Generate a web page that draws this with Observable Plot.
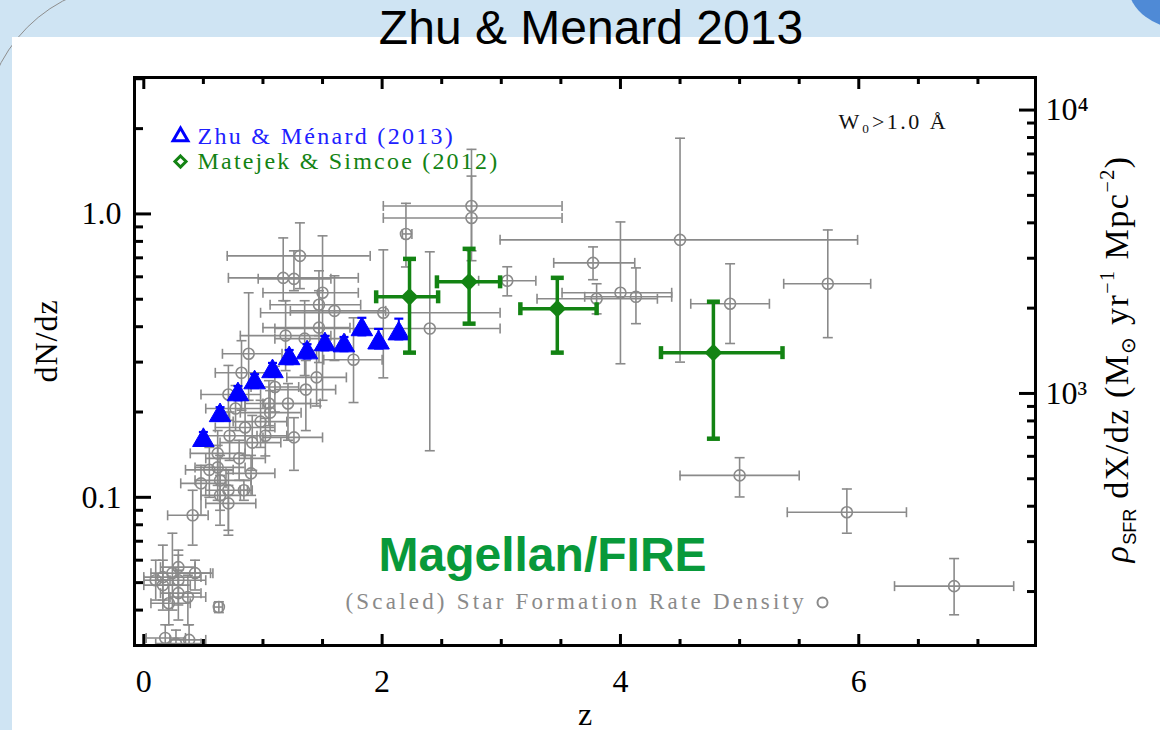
<!DOCTYPE html>
<html><head><meta charset="utf-8">
<script src="https://cdn.jsdelivr.net/npm/d3@7"></script>
<script src="https://cdn.jsdelivr.net/npm/@observablehq/plot@0.6"></script>
<style>
html,body{margin:0;padding:0;}
body{width:1160px;height:730px;overflow:hidden;background:#cfe4f3;position:relative;font-family:"Liberation Sans",Arial,sans-serif;}
#arc{position:absolute;left:-17px;top:-17px;width:3000px;height:3000px;border:1.5px solid #8e8e8e;border-top-left-radius:150px;box-sizing:border-box;}
#panel{position:absolute;left:12px;top:37px;right:0;bottom:0;background:#fff;}
#corner{position:absolute;left:1128px;top:-60px;width:120px;height:90px;border-radius:50%;background:#4f8ad6;}
#title{position:absolute;left:11px;top:4px;width:1160px;text-align:center;font-size:48px;line-height:48px;color:#000;}
#chart{position:absolute;left:0;top:40px;}
</style></head>
<body>
<div id="arc"></div>
<div id="corner"></div>
<div id="panel"></div>
<div id="title">Zhu &amp; Menard 2013</div>
<div id="chart"></div>
<script>
// ---------- data ----------
// compilation of literature SFR-density points (scaled), gray open circles
const grayZ   = [4.50,3.77,3.80,4.00,4.13,4.92,5.74,5.00,5.90,6.80,2.75,2.75,2.20,3.05,2.01,2.40,1.76,1.31,1.50,1.17,1.26,1.47,1.60,1.47,1.19,1.35,0.88,0.82,1.36,0.71,1.05,1.21,1.06,1.26,0.91,0.77,0.85,0.80,0.62,0.90,0.62,0.64,0.48,0.71,0.84,0.64,0.71,0.41,0.16,0.24,0.29,0.43,0.16,0.29,0.21,0.37,0.63,0.18,0.38,0.29,0.10,0.27,1.45,1.10,0.98,0.72,1.02,0.55];
const grayZLo = [2.99,3.44,3.30,3.51,3.70,4.59,5.37,4.50,5.40,6.30,2.01,2.01,2.17,2.81,0.98,1.10,1.51,0.70,1.00,0.71,0.96,1.06,1.23,1.00,0.81,1.10,0.66,0.60,1.10,0.48,0.85,1.00,0.81,1.00,0.64,0.52,0.60,0.52,0.39,0.69,0.43,0.43,0.31,0.52,0.81,0.48,0.52,0.20,0.00,0.06,0.10,0.27,0.00,0.14,0.06,0.22,0.59,0.02,0.22,0.14,0.00,0.10,1.20,0.90,0.75,0.50,0.85,0.35];
const grayZHi = [5.99,4.12,4.31,4.43,4.43,5.25,6.10,5.50,6.40,7.30,3.51,3.51,2.25,3.29,2.99,2.99,2.00,1.90,1.80,1.80,1.57,1.82,2.03,1.73,1.57,1.69,1.16,1.10,1.61,0.98,1.40,1.48,1.32,1.50,1.15,1.02,1.10,1.02,0.85,1.10,0.85,0.90,0.69,0.91,0.87,0.81,0.94,0.54,0.48,0.56,0.52,0.58,0.39,0.48,0.39,0.52,0.66,0.35,0.52,0.43,0.22,0.48,1.70,1.30,1.20,0.95,1.20,0.75];
const grayN   = [0.81,0.672,0.502,0.527,0.51,0.482,0.567,0.1195,0.0886,0.0486,1.067,0.968,0.85,0.581,0.448,0.394,0.306,0.711,0.527,0.595,0.590,0.478,0.455,0.397,0.372,0.363,0.321,0.275,0.240,0.2305,0.2143,0.2143,0.199,0.1627,0.156,0.2057,0.1764,0.1372,0.1429,0.1215,0.1275,0.1148,0.112,0.1059,0.1059,0.1016,0.0952,0.0864,0.0523,0.054,0.051,0.054,0.049,0.0459,0.0423,0.0445,0.041,0.0319,0.0314,0.0567,0.051,0.0305,0.265,0.245,0.185,0.165,0.165,0.125];
const grayNLo = [0.30,0.586,0.444,0.296,0.41,0.349,0.366,0.1003,0.0747,0.0385,0.684,0.741,0.65,0.514,0.264,0.146,0.216,0.545,0.22,0.494,0.536,0.372,0.304,0.299,0.280,0.269,0.22,0.203,0.172,0.187,0.179,0.159,0.172,0.1245,0.1245,0.172,0.1406,0.1148,0.1102,0.1016,0.0976,0.0900,0.0864,0.0765,0.0976,0.0797,0.0735,0.0678,0.0434,0.040,0.0417,0.0471,0.040,0.0369,0.0355,0.0355,0.0392,0.027,0.027,0.049,0.0434,0.027,0.21,0.20,0.15,0.135,0.14,0.10];
const grayNHi = [1.85,0.765,0.567,0.937,0.645,0.667,0.878,0.138,0.107,0.0608,1.69,1.36,1.09,0.651,0.747,0.735,0.43,0.930,0.837,0.823,0.741,0.630,0.605,0.536,0.494,0.494,0.527,0.357,0.304,0.292,0.258,0.252,0.238,0.191,0.1945,0.248,0.22,0.159,0.172,0.1406,0.1525,0.1406,0.1297,0.1245,0.1148,0.1195,0.1102,0.1059,0.0678,0.0747,0.0625,0.060,0.060,0.0553,0.049,0.0531,0.0428,0.0355,0.0355,0.0651,0.060,0.034,0.33,0.29,0.22,0.20,0.19,0.15];

// Zhu & Menard (2013), blue triangles
const blueZ   = [0.50,0.64,0.79,0.93,1.08,1.22,1.37,1.52,1.68,1.83,1.97,2.14];
const blueN   = [0.159,0.1945,0.2305,0.254,0.278,0.309,0.324,0.346,0.343,0.391,0.351,0.378];
const blueNLo = [0.152,0.186,0.220,0.243,0.266,0.295,0.309,0.330,0.328,0.373,0.335,0.361];
const blueNHi = [0.170,0.208,0.247,0.272,0.298,0.331,0.347,0.371,0.368,0.430,0.393,0.427];

// Matejek & Simcoe (2012), green diamonds
const greenZ   = [2.23,2.73,3.47,4.78];
const greenZLo = [1.95,2.46,3.16,4.34];
const greenZHi = [2.47,2.99,3.80,5.36];
const greenN   = [0.510,0.576,0.463,0.324];
const greenNLo = [0.324,0.41,0.324,0.161];
const greenNHi = [0.694,0.753,0.595,0.49];

// axis ticks and labels
const xMajorTicks = [0,2,4,6];
const xMinorTicks = [0.5,1,1.5,2.5,3,3.5,4.5,5,5.5,6.5,7];
const yMajorTicks = [0.1,1];
const yMajorLabels = ["0.1","1.0"];
const yMinorTicks = [0.04,0.05,0.06,0.07,0.08,0.09,0.2,0.3,0.4,0.5,0.6,0.7,0.8,0.9,2,3];
const sfrScale = 4300; // right-axis value per unit of dN/dz
const rightMajorTicks = [1000,10000];
const rightMajorLabels = ["10³","10⁴"];
const rightMinorTicks = [200,300,400,500,600,700,800,900,2000,3000,4000,5000,6000,7000,8000,9000];

// ---------- build ----------
const rows = (z, zLo, zHi, n, nLo, nHi) => z.map((v, i) => ({z: v, zLo: zLo[i], zHi: zHi[i], n: n[i], nLo: nLo[i], nHi: nHi[i]}));
const gray = rows(grayZ, grayZLo, grayZHi, grayN, grayNLo, grayNHi);
const blue = rows(blueZ, blueZ, blueZ, blueN, blueNLo, blueNHi);
const green = rows(greenZ, greenZLo, greenZHi, greenN, greenNLo, greenNHi);

const GRAY = "#8a8a8a", BLUE = "#0000ff", GREEN = "#138313", FIRE = "#08993a";
const serif = "'Liberation Serif','Times New Roman',serif";
const sans = "'Liberation Sans',Arial,sans-serif";

const hCap = {draw(c, s) { const r = Math.sqrt(s / Math.PI); c.moveTo(-r, 0); c.lineTo(r, 0); }};
const vCap = {draw(c, s) { const r = Math.sqrt(s / Math.PI); c.moveTo(0, -r); c.lineTo(0, r); }};

function errorBars(data, color, lw, capR, capW, withX = true) {
  const m = [];
  if (withX) {
    m.push(Plot.ruleY(data, {y: "n", x1: "zLo", x2: "zHi", stroke: color, strokeWidth: lw, clip: true}));
    m.push(Plot.dot(data, {x: "zLo", y: "n", symbol: vCap, r: capR, stroke: color, strokeWidth: capW, fill: "none", clip: true}));
    m.push(Plot.dot(data, {x: "zHi", y: "n", symbol: vCap, r: capR, stroke: color, strokeWidth: capW, fill: "none", clip: true}));
  }
  m.push(Plot.ruleX(data, {x: "z", y1: "nLo", y2: "nHi", stroke: color, strokeWidth: lw, clip: true}));
  m.push(Plot.dot(data, {x: "z", y: "nLo", symbol: hCap, r: capR, stroke: color, strokeWidth: capW, fill: "none", clip: true}));
  m.push(Plot.dot(data, {x: "z", y: "nHi", symbol: hCap, r: capR, stroke: color, strokeWidth: capW, fill: "none", clip: true}));
  return m;
}

const toRight = v => v / sfrScale;
const note = (txt, dx, dy, size, fill, extra = {}) =>
  Plot.text([txt], {frameAnchor: "top-left", text: d => d, dx, dy, textAnchor: "start", lineAnchor: "bottom", fontSize: size, fontFamily: serif, fill, ...extra});

const chart = Plot.plot({
  width: 1160, height: 690,
  marginLeft: 134, marginRight: 125, marginTop: 37, marginBottom: 85,
  x: {domain: [-0.078, 7.483]},
  y: {type: "log", domain: [0.03, 3.03]},
  style: {fontFamily: serif, background: "transparent", color: "#000", overflow: "visible"},
  marks: [
    ...errorBars(gray, GRAY, 1.6, 5, 1.6),
    Plot.dot(gray, {x: "z", y: "n", r: 5.5, stroke: GRAY, strokeWidth: 1.6, fill: "none", clip: true}),
    ...errorBars(blue, BLUE, 2, 4.5, 2.2, false),
    Plot.dot(blue, {x: "z", y: "n", symbol: "triangle", r: 8, fill: BLUE, stroke: BLUE, strokeWidth: 1}),
    ...errorBars(green, GREEN, 3.5, 6.5, 4.5),
    Plot.dot(green, {x: "z", y: "n", symbol: "diamond2", r: 8, fill: GREEN}),

    // frame & inward ticks
    Plot.frame({stroke: "#000", strokeWidth: 3}),
    Plot.axisX(xMajorTicks, {anchor: "bottom", tickSize: -11, strokeWidth: 3, tickFormat: () => "", label: null}),
    Plot.axisX(xMinorTicks, {anchor: "bottom", tickSize: -6, strokeWidth: 3, tickFormat: () => "", label: null}),
    Plot.axisX(xMajorTicks, {anchor: "top", tickSize: -11, strokeWidth: 3, tickFormat: () => "", label: null}),
    Plot.axisX(xMinorTicks, {anchor: "top", tickSize: -6, strokeWidth: 3, tickFormat: () => "", label: null}),
    Plot.axisY(yMajorTicks, {anchor: "left", tickSize: -17, strokeWidth: 3, tickFormat: () => "", label: null}),
    Plot.axisY(yMinorTicks, {anchor: "left", tickSize: -9, strokeWidth: 3, tickFormat: () => "", label: null}),
    Plot.axisY(rightMajorTicks.map(toRight), {anchor: "right", tickSize: -17, strokeWidth: 3, tickFormat: () => "", label: null}),
    Plot.axisY(rightMinorTicks.map(toRight), {anchor: "right", tickSize: -9, strokeWidth: 3, tickFormat: () => "", label: null}),

    // tick labels
    Plot.axisX(xMajorTicks, {anchor: "bottom", tickSize: 0, tickPadding: 24, fontSize: 32, fontFamily: serif, tickFormat: d => String(d), label: null}),
    Plot.axisY(yMajorTicks, {anchor: "left", tickSize: 0, tickPadding: 13, fontSize: 32, fontFamily: serif, tickFormat: d => yMajorLabels[yMajorTicks.indexOf(d)], label: null}),
    Plot.axisY(rightMajorTicks.map(toRight), {anchor: "right", tickSize: 0, tickPadding: 10, fontSize: 32, fontFamily: serif,
      tickFormat: d => rightMajorLabels[rightMajorTicks.indexOf(Math.round(d * sfrScale))], label: null}),

    // x-axis title
    Plot.text(["z"], {frameAnchor: "bottom", text: d => d, dy: 79, lineAnchor: "bottom", fontSize: 32, fontFamily: serif}),

    // legend & annotations
    Plot.dot([0], {x: null, y: null, frameAnchor: "top-left", dx: 46, dy: 59, symbol: "triangle", r: 5.5, stroke: BLUE, strokeWidth: 3, fill: "none"}),
    note("Zhu & Ménard (2013)", 63, 66, 24, "#2020ff"),
    Plot.dot([0], {x: null, y: null, frameAnchor: "top-left", dx: 46, dy: 84, symbol: "diamond2", r: 5, stroke: GREEN, strokeWidth: 3, fill: "none"}),
    note("Matejek & Simcoe (2012)", 63, 91, 24, GREEN),
    note("W₀>1.0 Å", 704, 51, 22, "#111"),
    Plot.text(["Magellan/FIRE"], {frameAnchor: "top-left", text: d => d, dx: 244, dy: 493, textAnchor: "start", lineAnchor: "bottom", fontSize: 48, fontWeight: "bold", fontFamily: sans, fill: FIRE}),
    note("(Scaled) Star Formation Rate Density", 211, 531, 23, GRAY),
    Plot.dot([0], {x: null, y: null, frameAnchor: "top-left", dx: 688, dy: 525, r: 5, stroke: GRAY, strokeWidth: 2, fill: "none"})
  ]
});

document.getElementById("chart").appendChild(chart);
const svg = d3.select(chart);

// letter spacing of the wide plot-annotation font
const spacing = {"Zhu & Ménard (2013)": 2.3, "Matejek & Simcoe (2012)": 2.2, "W₀>1.0 Å": 2.5, "(Scaled) Star Formation Rate Density": 3.2};
svg.selectAll("text").each(function () {
  const s = spacing[this.textContent];
  if (s) d3.select(this).attr("letter-spacing", s);
});

// left axis title
svg.append("text")
  .attr("transform", "translate(57,301) rotate(-90)")
  .attr("text-anchor", "middle")
  .attr("font-family", serif).attr("font-size", 32).attr("letter-spacing", 1)
  .attr("fill", "#000").text("dN/dz");

// right-hand axis title with sub/superscripts
const t = svg.append("text")
  .attr("transform", "translate(1128,319) rotate(-90)")
  .attr("text-anchor", "middle")
  .attr("font-family", serif)
  .attr("font-size", 34)
  .attr("letter-spacing", 1.5)
  .attr("fill", "#000");
t.append("tspan").attr("font-style", "italic").text("ρ");
t.append("tspan").attr("font-size", 18).attr("font-family", sans).attr("letter-spacing", 0).attr("dy", 8).text("SFR");
t.append("tspan").attr("dy", -8).text(" dX/dz (M");
t.append("tspan").attr("font-size", 20).attr("dy", 7).text("⊙");
t.append("tspan").attr("dy", -7).text(" yr");
t.append("tspan").attr("font-size", 20).attr("dy", -14).text("−1");
t.append("tspan").attr("dy", 14).text(" Mpc");
t.append("tspan").attr("font-size", 20).attr("dy", -14).text("−2");
t.append("tspan").attr("dy", 14).text(")");
</script>
</body></html>
